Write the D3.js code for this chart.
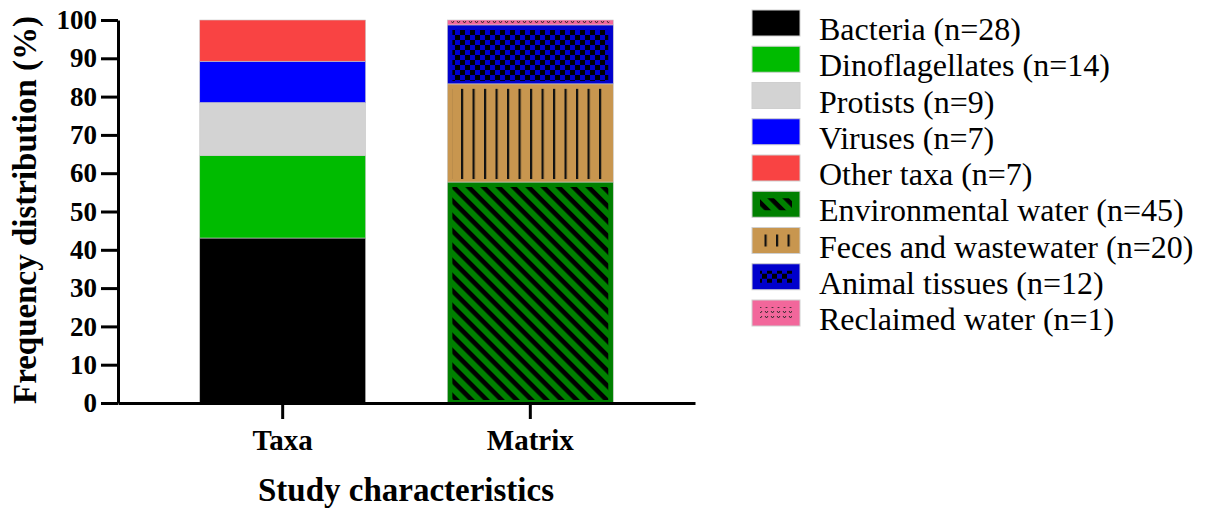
<!DOCTYPE html>
<html>
<head>
<meta charset="utf-8">
<script src="https://cdn.jsdelivr.net/npm/d3@7"></script>
<style>
  body { margin: 0; background: #fff; }
  text { font-family: "Liberation Serif", "Times New Roman", serif; fill: #000; }
</style>
</head>
<body>
<svg id="chart" width="1218" height="521"></svg>
<script>
// data
const groups = ['Taxa', 'Matrix'];
const taxaNames = ['Bacteria', 'Dinoflagellates', 'Protists', 'Viruses', 'Other taxa'];
const taxaCounts = [28, 14, 9, 7, 7];
const matrixNames = ['Environmental water', 'Feces and wastewater', 'Animal tissues', 'Reclaimed water'];
const matrixCounts = [45, 20, 12, 1];
const yTicks = [0, 10, 20, 30, 40, 50, 60, 70, 80, 90, 100];

// look of each segment: base colour + optional overlay pattern
const taxaColors = ['#000000', '#00bb00', '#d3d3d3', '#0000ff', '#f94343'];
const matrixColors = ['#008000', '#c8964f', '#0000cc', '#f2679b'];
const matrixPatterns = ['diag', 'vlines', 'checks', 'dots'];

const svg = d3.select('#chart');

// patterns (black marks on transparent ground)
const defs = svg.append('defs');
let p = defs.append('pattern').attr('id', 'diag').attr('patternUnits', 'userSpaceOnUse')
  .attr('width', 10.6).attr('height', 10.6).attr('patternTransform', 'rotate(45)');
p.append('rect').attr('x', 0).attr('y', 0).attr('width', 10.6).attr('height', 4.6).attr('fill', '#000');

p = defs.append('pattern').attr('id', 'vlines').attr('patternUnits', 'userSpaceOnUse')
  .attr('width', 11.5).attr('height', 10).attr('x', 1);
p.append('rect').attr('x', 0).attr('y', 0).attr('width', 2.2).attr('height', 10).attr('fill', '#111');

p = defs.append('pattern').attr('id', 'checks').attr('patternUnits', 'userSpaceOnUse')
  .attr('width', 10).attr('height', 10);
p.append('rect').attr('x', 0).attr('y', 0).attr('width', 5).attr('height', 5).attr('fill', '#000');
p.append('rect').attr('x', 5).attr('y', 5).attr('width', 5).attr('height', 5).attr('fill', '#000');

p = defs.append('pattern').attr('id', 'dots').attr('patternUnits', 'userSpaceOnUse')
  .attr('width', 6).attr('height', 5);
p.append('path').attr('d', 'M1,1 L2.5,3 L4,1').attr('fill', 'none').attr('stroke', '#222').attr('stroke-width', 0.9);

// scales
const x = d3.scaleBand().domain(groups).range([118, 695]).paddingInner(0.33).paddingOuter(0.33);
const y = d3.scaleLinear().domain([0, 100]).range([403, 20]);

// stack counts into percentage segments
function stackUp(names, counts, colors, pats) {
  const total = d3.sum(counts);
  let acc = 0;
  return names.map((n, i) => {
    const pct = counts[i] / total * 100;
    const seg = {name: n, n: counts[i], y0: acc, y1: acc + pct, color: colors[i], pattern: pats ? pats[i] : null};
    acc += pct;
    return seg;
  });
}
const taxaSegs = stackUp(taxaNames, taxaCounts, taxaColors, null);
const matrixSegs = stackUp(matrixNames, matrixCounts, matrixColors, matrixPatterns);

function drawBar(group, segs) {
  const g = svg.append('g');
  segs.forEach(s => {
    const top = y(s.y1), bot = y(s.y0);
    g.append('rect')
      .attr('x', x(group)).attr('y', top)
      .attr('width', x.bandwidth()).attr('height', bot - top)
      .attr('fill', s.color)
      .attr('stroke', '#c8c8c8').attr('stroke-width', 0.6);
    if (s.pattern && bot - top > 10) {
      g.append('rect')
        .attr('x', x(group) + 5).attr('y', top + 5)
        .attr('width', x.bandwidth() - 10).attr('height', bot - top - 8)
        .attr('fill', 'url(#' + s.pattern + ')');
    } else if (s.pattern) {
      g.append('rect')
        .attr('x', x(group) + 4).attr('y', top + 0.5)
        .attr('width', x.bandwidth() - 8).attr('height', bot - top - 1)
        .attr('fill', 'url(#' + s.pattern + ')');
    }
  });
}
drawBar('Taxa', taxaSegs);
drawBar('Matrix', matrixSegs);

// axes
const yAxis = svg.append('g').attr('transform', 'translate(118,0)')
  .call(d3.axisLeft(y).tickValues(yTicks).tickSize(17).tickPadding(4).tickSizeOuter(0));
yAxis.selectAll('path, line').attr('stroke', '#000').attr('stroke-width', 3);
yAxis.selectAll('text').attr('font-size', 27).attr('font-weight', 'bold')
  .attr('font-family', '"Liberation Serif", serif').attr('fill', '#000');

const xAxis = svg.append('g').attr('transform', 'translate(0,403)')
  .call(d3.axisBottom(x).tickSize(16).tickPadding(10).tickSizeOuter(0));
xAxis.selectAll('path, line').attr('stroke', '#000').attr('stroke-width', 3);
xAxis.selectAll('text').attr('font-size', 29).attr('font-weight', 'bold')
  .attr('font-family', '"Liberation Serif", serif').attr('fill', '#000')
  .attr('dy', '0.71em');

// axis titles
svg.append('text')
  .attr('transform', 'translate(36,210) rotate(-90)')
  .attr('text-anchor', 'middle')
  .attr('font-size', 33).attr('font-weight', 'bold')
  .text('Frequency distribution (%)');

svg.append('text')
  .attr('x', 406).attr('y', 501)
  .attr('text-anchor', 'middle')
  .attr('font-size', 33).attr('font-weight', 'bold')
  .text('Study characteristics');

// legend
const legendItems = taxaSegs.concat(matrixSegs);
const legend = svg.append('g').attr('transform', 'translate(752,10)');
legendItems.forEach((d, i) => {
  const row = legend.append('g').attr('transform', 'translate(0,' + (i * 36.25) + ')');
  row.append('rect').attr('width', 48).attr('height', 26)
    .attr('fill', d.color).attr('stroke', '#cfcfcf').attr('stroke-width', 1);
  if (d.pattern) {
    row.append('rect').attr('x', 8).attr('y', 7).attr('width', 32).attr('height', 12)
      .attr('fill', 'url(#' + d.pattern + ')');
  }
  row.append('text').attr('x', 67).attr('y', 30)
    .attr('font-size', 32)
    .text(d.name + ' (n=' + d.n + ')');
});
</script>
</body>
</html>
